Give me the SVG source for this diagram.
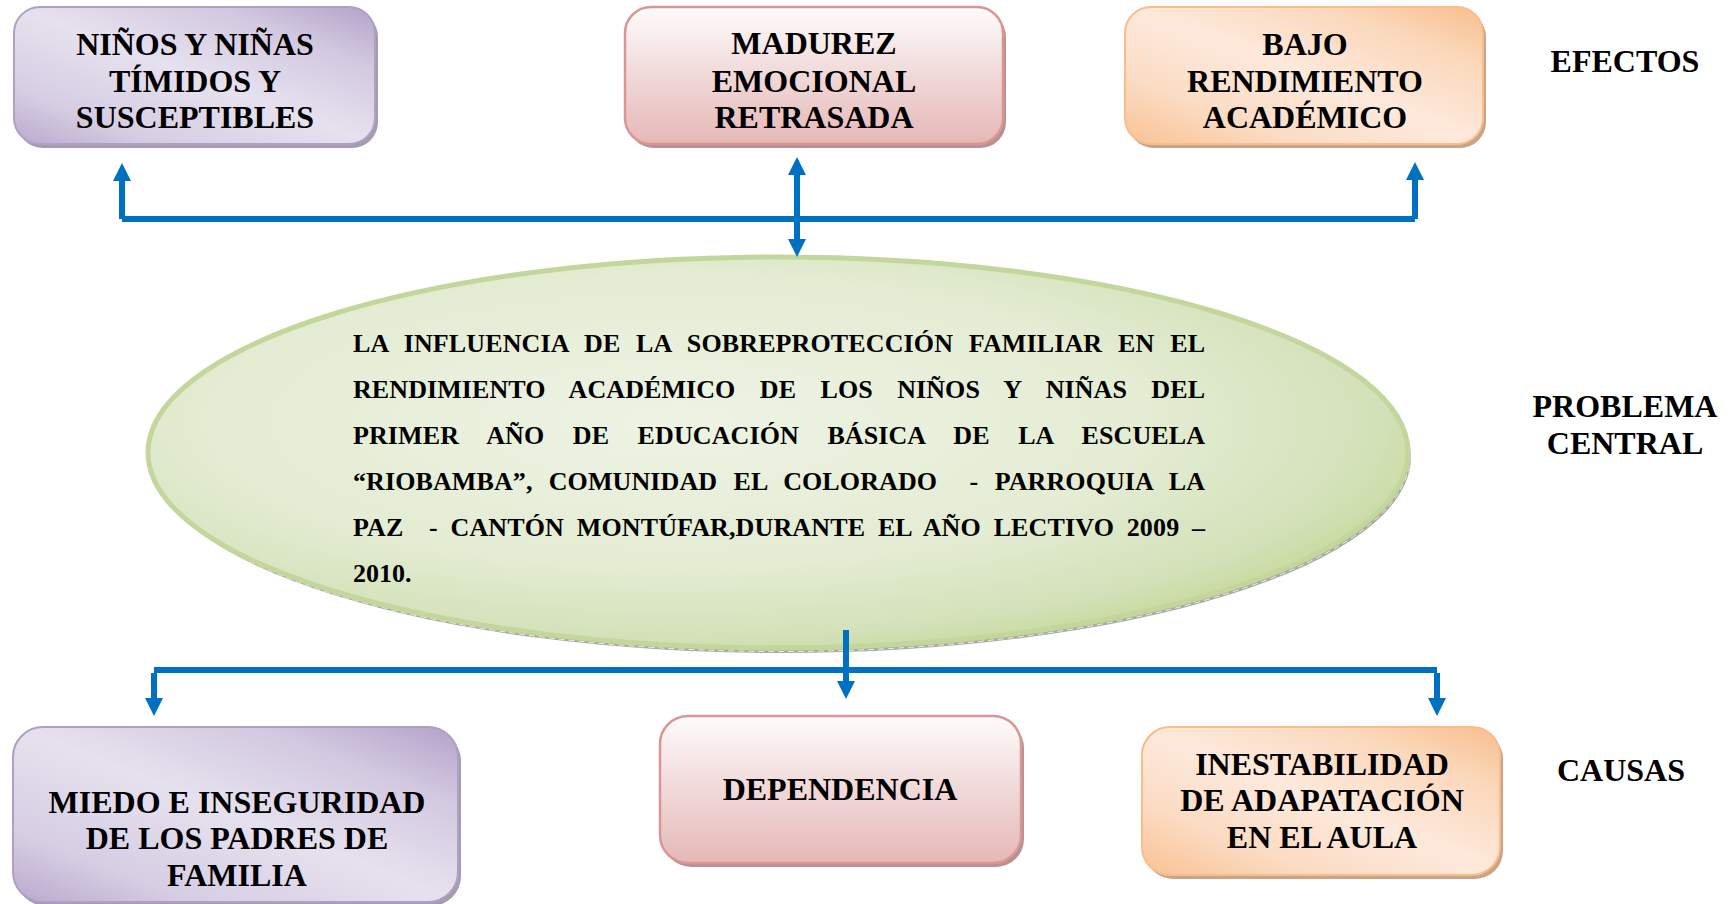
<svg xmlns="http://www.w3.org/2000/svg" width="1730" height="904" viewBox="0 0 1730 904">
<defs>
<linearGradient id="gPurple" x1="0" y1="1" x2="1" y2="0">
<stop offset="0" stop-color="#b9a9cd"/>
<stop offset="0.2" stop-color="#d6cde3"/>
<stop offset="0.5" stop-color="#e6e1ee"/>
<stop offset="0.78" stop-color="#d2c8e0"/>
<stop offset="1" stop-color="#b3a2c8"/>
</linearGradient>
<linearGradient id="gPink" x1="0" y1="0" x2="0" y2="1">
<stop offset="0" stop-color="#fefbfb"/>
<stop offset="0.45" stop-color="#f2dcdc"/>
<stop offset="1" stop-color="#e5b8b7"/>
</linearGradient>
<linearGradient id="gOrange" x1="0" y1="1" x2="1" y2="0">
<stop offset="0" stop-color="#f9c294"/>
<stop offset="0.25" stop-color="#fbdcc4"/>
<stop offset="0.5" stop-color="#fde9dc"/>
<stop offset="0.78" stop-color="#fbd8bb"/>
<stop offset="1" stop-color="#f8be8d"/>
</linearGradient>
<radialGradient id="gGreen" cx="0.42" cy="0.42" r="0.62">
<stop offset="0" stop-color="#eef3e4"/>
<stop offset="0.6" stop-color="#e4ecd3"/>
<stop offset="0.9" stop-color="#d3e1b8"/>
<stop offset="1" stop-color="#c8da9f"/>
</radialGradient>
<marker id="ah" markerUnits="userSpaceOnUse" markerWidth="18" markerHeight="18" refX="0" refY="9" orient="auto-start-reverse" viewBox="0 0 18 18">
<path d="M0,0 L18,9 L0,18 Z" fill="#0070c0"/>
</marker>
<style>
.t{font-family:"Liberation Serif","Times New Roman",serif;font-weight:bold;fill:#000;}
.box{font-size:32px;text-anchor:middle;}
.lbl{font-size:32px;text-anchor:middle;}
.el{font-size:26px;}
.con{stroke:#0070c0;stroke-width:6;fill:none;stroke-linejoin:miter;}
.pur{fill:url(#gPurple);stroke:#b09fc6;stroke-width:2;}
.pnk{fill:url(#gPink);stroke:#d99694;stroke-width:2.5;}
.org{fill:url(#gOrange);stroke:#f7bd8b;stroke-width:2;}
</style>
</defs>
<rect width="1730" height="904" fill="#ffffff"/>

<g id="efecto1">
<rect x="17" y="11" width="361" height="137" rx="26" fill="#a59cae"/>
<rect class="pur" x="14" y="7" width="361" height="137" rx="26"/>
<text class="t box" x="195" y="55">NIÑOS Y NIÑAS</text>
<text class="t box" x="195" y="92">TÍMIDOS Y</text>
<text class="t box" x="195" y="128">SUSCEPTIBLES</text>
</g>

<g id="efecto2">
<rect x="628" y="11" width="378" height="137" rx="26" fill="#b89190"/>
<rect class="pnk" x="625" y="7" width="378" height="137" rx="26"/>
<text class="t box" x="814" y="54">MADUREZ</text>
<text class="t box" x="814" y="92">EMOCIONAL</text>
<text class="t box" x="814" y="128">RETRASADA</text>
</g>

<g id="efecto3">
<rect x="1128" y="11" width="358" height="137" rx="26" fill="#cba386"/>
<rect class="org" x="1125" y="7" width="358" height="137" rx="26"/>
<text class="t box" x="1305" y="55">BAJO</text>
<text class="t box" x="1305" y="92">RENDIMIENTO</text>
<text class="t box" x="1305" y="128">ACADÉMICO</text>
</g>

<g id="lbl-efectos"><text class="t lbl" x="1625" y="72">EFECTOS</text></g>

<g id="problema">
<ellipse cx="781" cy="457" rx="630" ry="196" fill="#a8ac9c"/>
<ellipse cx="780" cy="455.5" rx="630" ry="196" fill="none" stroke="#ffffff" stroke-width="1" stroke-dasharray="6 4" opacity="0.8"/>
<ellipse cx="778" cy="452.5" rx="630" ry="195.5" fill="url(#gGreen)" stroke="#c3d69b" stroke-width="5"/>
<text class="t el" x="353" y="352" word-spacing="9.15" textLength="852" lengthAdjust="spacing">LA INFLUENCIA DE LA SOBREPROTECCIÓN FAMILIAR EN EL</text>
<text class="t el" x="353" y="398" word-spacing="17.81" textLength="852" lengthAdjust="spacing">RENDIMIENTO ACADÉMICO DE LOS NIÑOS Y NIÑAS DEL</text>
<text class="t el" x="353" y="444" word-spacing="21.94" textLength="852" lengthAdjust="spacing">PRIMER AÑO DE EDUCACIÓN BÁSICA DE LA ESCUELA</text>
<text class="t el" x="353" y="490" word-spacing="9.67" textLength="852" lengthAdjust="spacing" xml:space="preserve">“RIOBAMBA”, COMUNIDAD EL COLORADO  - PARROQUIA LA</text>
<text class="t el" x="353" y="536" word-spacing="6.08" textLength="852" lengthAdjust="spacing" xml:space="preserve">PAZ  - CANTÓN MONTÚFAR,DURANTE EL AÑO LECTIVO 2009 –</text>
<text class="t el" x="353" y="582">2010.</text>
</g>

<g id="lbl-problema">
<text class="t lbl" x="1625" y="417">PROBLEMA</text>
<text class="t lbl" x="1625" y="454">CENTRAL</text>
</g>

<g id="causa1">
<rect x="16" y="731" width="445" height="175" rx="30" fill="#a59cae"/>
<rect class="pur" x="13" y="727" width="445" height="175" rx="30"/>
<text class="t box" x="237" y="813">MIEDO E INSEGURIDAD</text>
<text class="t box" x="237" y="849">DE LOS PADRES DE</text>
<text class="t box" x="237" y="886">FAMILIA</text>
</g>

<g id="causa2">
<rect x="663" y="720" width="361" height="147" rx="28" fill="#b89190"/>
<rect class="pnk" x="660" y="716" width="361" height="147" rx="28"/>
<text class="t box" x="840" y="800">DEPENDENCIA</text>
</g>

<g id="causa3">
<rect x="1145" y="731" width="358" height="148" rx="28" fill="#cba386"/>
<rect class="org" x="1142" y="727" width="358" height="148" rx="28"/>
<text class="t box" x="1322" y="775">INESTABILIDAD</text>
<text class="t box" x="1322" y="811">DE ADAPATACIÓN</text>
<text class="t box" x="1322" y="848">EN EL AULA</text>
</g>

<g id="lbl-causas"><text class="t lbl" x="1621" y="781">CAUSAS</text></g>

<g id="connectors">
<path class="con" d="M122,219 V181" marker-end="url(#ah)"/>
<path class="con" d="M1415,219 V180" marker-end="url(#ah)"/>
<path class="con" d="M122,219 H1415"/>
<path class="con" d="M797,175 V239" marker-start="url(#ah)" marker-end="url(#ah)"/>
<path class="con" d="M154,670 H1437"/>
<path class="con" d="M154,673 V698" marker-end="url(#ah)"/>
<path class="con" d="M1437,673 V698" marker-end="url(#ah)"/>
<path class="con" d="M846,630 V681" marker-end="url(#ah)"/>
</g>
</svg>
